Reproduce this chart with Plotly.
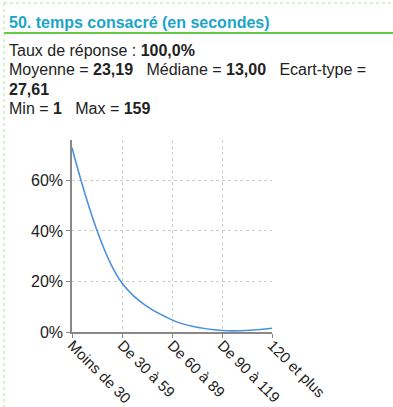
import plotly.graph_objects as go

categories = ["Moins de 30", "De 30 à 59", "De 60 à 89", "De 90 à 119", "120 et plus"]
values = [73.0, 19.4, 4.8, 0.6, 1.5]
y_ticks = [0, 20, 40, 60]
y_tick_labels = ["0%", "20%", "40%", "60%"]

title_text = "50. temps consacré (en secondes)"
stats_lines = [
    "Taux de réponse : <b>100,0%</b>",
    "Moyenne = <b>23,19</b>\u00a0\u00a0\u00a0Médiane = <b>13,00</b>\u00a0\u00a0\u00a0Ecart-type =",
    "<b>27,61</b>",
    "Min = <b>1</b>\u00a0\u00a0\u00a0Max = <b>159</b>",
]

W, H = 393, 407
L, R, T, B = 72, 121, 140, 75
PW, PH = W - L - R, H - T - B
FONT = "Arial, Liberation Sans, sans-serif"

def px_x(px):
    return (px - L) / PW

def px_y(py):
    return 1 - (py - T) / PH

fig = go.Figure()
fig.add_trace(go.Scatter(
    x=list(range(len(categories))), y=values, mode="lines",
    line=dict(color="#4a90dc", width=1.6, shape="spline", smoothing=1.0),
    hoverinfo="skip", showlegend=False,
))

fig.update_layout(
    width=W, height=H,
    margin=dict(l=L, r=R, t=T, b=B, autoexpand=False),
    paper_bgcolor="white", plot_bgcolor="white",
    font=dict(family=FONT, color="#222222", size=16),
    xaxis=dict(
        tickmode="array", tickvals=list(range(len(categories))), ticktext=categories,
        range=[0, 4], tickangle=45, showgrid=True, gridcolor="#cccccc", griddash="dot",
        gridwidth=1, showline=True, linecolor="#888888", linewidth=1.5,
        ticks="outside", ticklen=4, tickcolor="#888888", zeroline=False,
        tickfont=dict(size=15, color="#222222"), automargin=False,
        ticklabelstandoff=-7,
    ),
    yaxis=dict(
        tickmode="array", tickvals=y_ticks, ticktext=y_tick_labels,
        range=[0, 76], showgrid=True, gridcolor="#cccccc", griddash="dot",
        gridwidth=1, showline=True, linecolor="#888888", linewidth=1.5,
        ticks="outside", ticklen=4, tickcolor="#888888", zeroline=False,
        tickfont=dict(size=16, color="#222222"), automargin=False,
    ),
)

annotations = [
    dict(text="<b>" + title_text + "</b>", x=px_x(7), y=px_y(33), xref="paper", yref="paper",
         xanchor="left", yanchor="bottom", showarrow=False,
         font=dict(size=16, color="#1aa5c8", family=FONT)),
]
baselines = [61, 80.3, 99.6, 119]
for line, yb in zip(stats_lines, baselines):
    annotations.append(dict(text=line, x=px_x(7), y=px_y(yb), xref="paper", yref="paper",
                            xanchor="left", yanchor="bottom", showarrow=False,
                            font=dict(size=16, color="#222222", family=FONT)))
fig.update_layout(annotations=annotations)

shapes = [
    dict(type="line", xref="paper", yref="paper", x0=px_x(4), x1=px_x(393), y0=px_y(33), y1=px_y(33),
         line=dict(color="#66cc44", width=2)),
    dict(type="line", xref="paper", yref="paper", x0=px_x(4), x1=px_x(393), y0=px_y(3), y1=px_y(3),
         line=dict(color="#aee39a", width=1, dash="dot")),
    dict(type="line", xref="paper", yref="paper", x0=px_x(4), x1=px_x(4), y0=px_y(3), y1=px_y(407),
         line=dict(color="#aee39a", width=1, dash="dot")),
]
fig.update_layout(shapes=shapes)

fig.write_html("out.html", config={"displayModeBar": False},
               post_script="document.body.style.margin='0';")
